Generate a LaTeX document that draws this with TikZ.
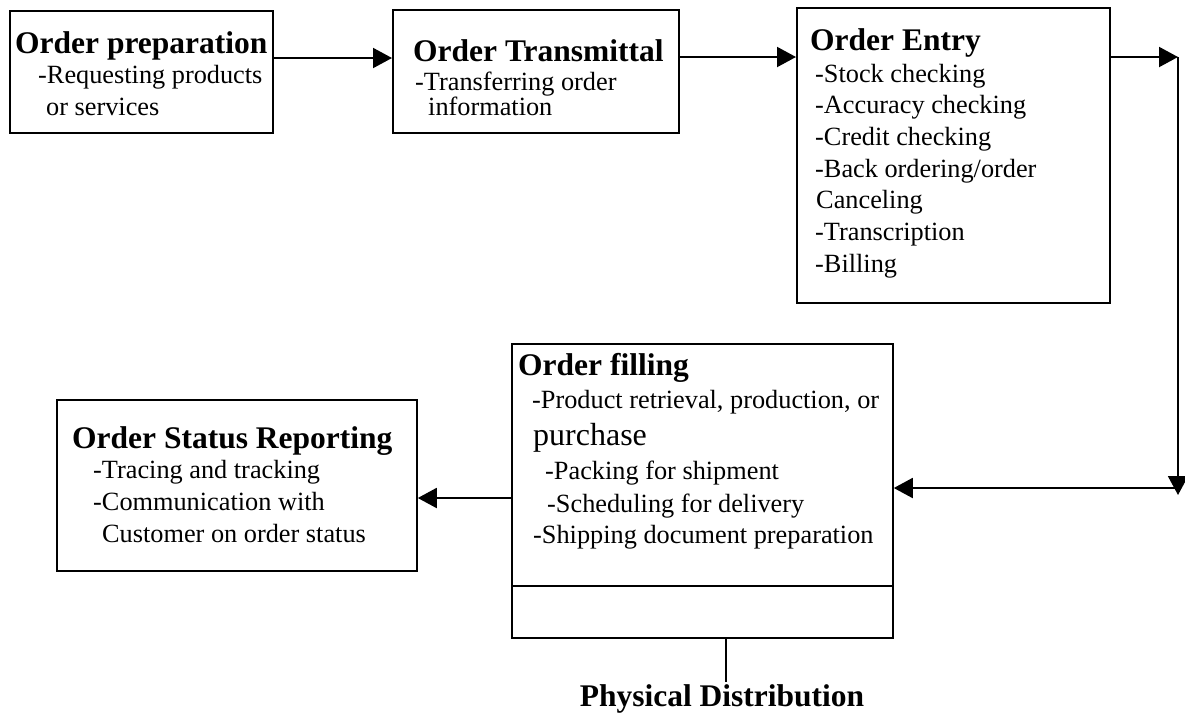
\documentclass[tikz,border=0pt]{standalone}
\usepackage{fontspec}
\setmainfont{Liberation Serif}
\usetikzlibrary{arrows.meta}
\begin{document}
\begin{tikzpicture}[x=1pt,y=-1pt,
  box/.style={draw,line width=1.8pt,rectangle,inner sep=0pt,anchor=north west},
  head/.style={font=\fontsize{31.5}{36}\selectfont\bfseries,anchor=base west,inner sep=0pt},
  body/.style={font=\fontsize{26.3}{31}\selectfont,anchor=base west,inner sep=0pt},
  big/.style={font=\fontsize{32}{36}\selectfont,anchor=base west,inner sep=0pt},
  arr/.style={line width=2pt,-{Triangle[length=19pt,width=20pt]}},
  ln/.style={line width=2pt}]
\useasboundingbox (0,0) rectangle (1185,713);
% boxes
\node[box,minimum width=263pt,minimum height=122pt] (b1) at (9,10) {};
\node[box,minimum width=286pt,minimum height=123pt] (b2) at (392,9) {};
\node[box,minimum width=313pt,minimum height=295pt] (b3) at (796,7) {};
\node[box,minimum width=381pt,minimum height=294pt] (b4) at (511,343) {};
\node[box,minimum width=360pt,minimum height=171pt] (b5) at (56,399) {};
\draw[line width=1.8pt] (b4.west |- 0,586) -- (b4.east |- 0,586);
% texts box 1
\node[head] (t1a) at (15,53) {Order preparation};
\node[body] (t1b) at (38,83) {-Requesting products};
\node[body] (t1c) at (46,115) {or services};
% box 2
\node[head] (t2a) at (413,61) {Order Transmittal};
\node[body] (t2b) at (415,90) {-Transferring order};
\node[body] (t2c) at (428,115) {information};
% box 3
\node[head] (t3a) at (810,50) {Order Entry};
\node[body] (t3b) at (815,82) {-Stock checking};
\node[body] (t3c) at (815,113) {-Accuracy checking};
\node[body] (t3d) at (815,145) {-Credit checking};
\node[body] (t3e) at (815,177) {-Back ordering/order};
\node[body] (t3f) at (816,208) {Canceling};
\node[body] (t3g) at (815,240) {-Transcription};
\node[body] (t3h) at (815,272) {-Billing};
% box 4
\node[head] (t4a) at (518,375) {Order filling};
\node[body] (t4b) at (532,408) {-Product retrieval, production, or};
\node[big] (t4c) at (533,445) {purchase};
\node[body] (t4d) at (545,479) {-Packing for shipment};
\node[body] (t4e) at (547,512) {-Scheduling for delivery};
\node[body] (t4f) at (533,543) {-Shipping document preparation};
% box 5
\node[head] (t5a) at (72,448) {Order Status Reporting};
\node[body] (t5b) at (93,478) {-Tracing and tracking};
\node[body] (t5c) at (93,510) {-Communication with};
\node[body] (t5d) at (102,542) {Customer on order status};
% physical distribution
\node[font=\fontsize{31.5}{36}\selectfont\bfseries,anchor=base,inner sep=0pt] (pd) at (722,706) {Physical Distribution};
% coordinates
\coordinate (c1) at (1178,57);
\coordinate (c2) at (1178,495);
\coordinate (c3) at (1178,488);
\coordinate (lp) at (726,682);
% connectors
\draw[arr] (b1.east |- 0,58) -- (b2.west |- 0,58);
\draw[arr] (b2.east |- 0,57) -- (b3.west |- 0,57);
\draw[arr] (b3.east |- c1) -- (c1);
\draw[arr] (c1) -- (c2);
\draw[arr] (c3) -- (b4.east |- c3);
\draw[arr] (b4.west |- 0,498) -- (b5.east |- 0,498);
\draw[line width=1.4pt] (b4.south -| lp) -- (lp);
\end{tikzpicture}
\end{document}
